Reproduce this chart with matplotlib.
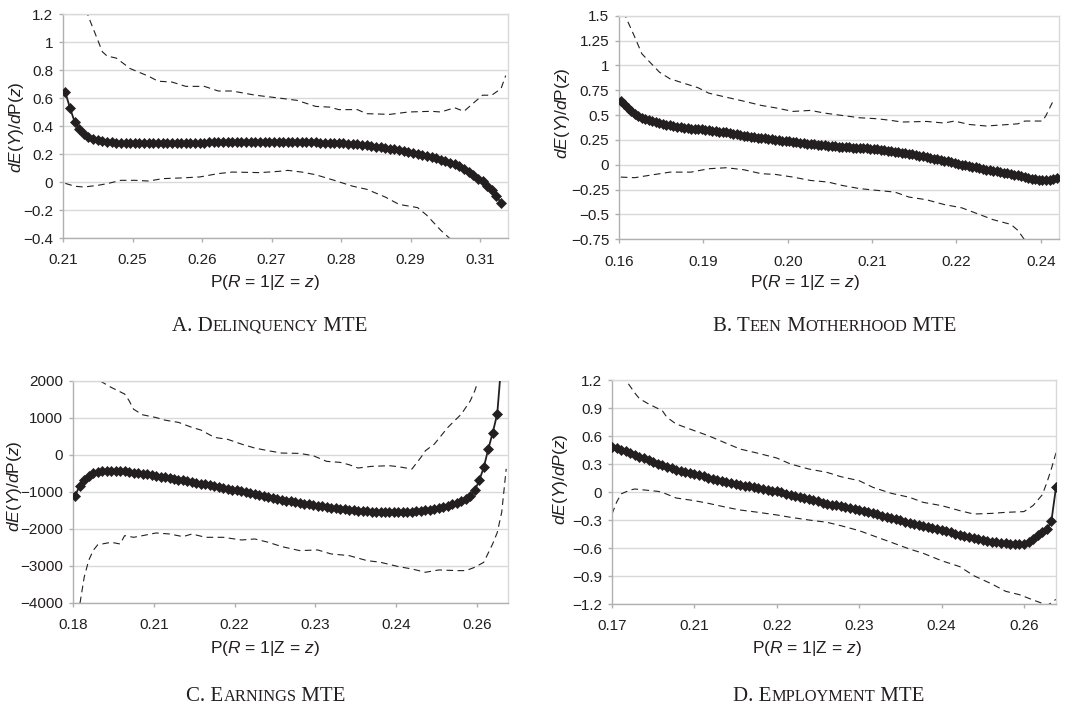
import matplotlib
matplotlib.use('Agg')
import matplotlib.pyplot as plt
from matplotlib.ticker import FuncFormatter

W, H = 1086, 708
plt.rcParams['font.family'] = ['Liberation Sans', 'DejaVu Sans']
plt.rcParams['mathtext.fontset'] = 'custom'
plt.rcParams['mathtext.rm'] = 'Liberation Sans'
plt.rcParams['mathtext.it'] = 'Liberation Sans:italic'
plt.rcParams['mathtext.bf'] = 'Liberation Sans:bold'
INK = '#231f20'

# ---------------- Panel A: Delinquency ----------------
a_xticklabels = ['0.21', '0.25', '0.26', '0.27', '0.28', '0.29', '0.31']
a_yticks = [-0.4, -0.2, 0, 0.2, 0.4, 0.6, 0.8, 1.0, 1.2]
a_mean = [0.64, 0.53, 0.43, 0.38, 0.34, 0.325, 0.31, 0.30, 0.292, 0.286, 0.283,
          0.281, 0.280, 0.279, 0.279, 0.279, 0.279, 0.279, 0.279, 0.279, 0.28,
          0.28, 0.28, 0.28, 0.28, 0.281, 0.281, 0.281, 0.281, 0.282, 0.282,
          0.283, 0.283, 0.284, 0.284, 0.285, 0.285, 0.286, 0.286, 0.287, 0.287,
          0.288, 0.288, 0.288, 0.288, 0.288, 0.288, 0.288, 0.287, 0.287, 0.286,
          0.286, 0.285, 0.284, 0.283, 0.282, 0.281, 0.28, 0.279, 0.277, 0.276,
          0.274, 0.271, 0.269, 0.266, 0.262, 0.257, 0.252, 0.248, 0.243, 0.238,
          0.233, 0.226, 0.22, 0.212, 0.205, 0.198, 0.192, 0.185, 0.178, 0.169,
          0.16, 0.148, 0.138, 0.128, 0.114, 0.095, 0.07, 0.048, 0.025, 0.005,
          -0.03, -0.06, -0.10, -0.15]
a_up_idx = [0, 5, 8, 9, 11, 14, 18, 20, 23, 26, 30, 33, 36, 41, 46, 50, 54, 57,
            59, 63, 65, 70, 74, 79, 81, 84, 86, 90, 92, 94, 95]
a_up = [1.65, 1.18, 0.93, 0.9, 0.885, 0.81, 0.755, 0.72, 0.714, 0.683, 0.683,
        0.65, 0.65, 0.62, 0.6, 0.583, 0.54, 0.535, 0.517, 0.517, 0.488, 0.483,
        0.5, 0.505, 0.5, 0.53, 0.505, 0.62, 0.62, 0.667, 0.76]
a_lo_idx = [0, 2, 4, 7, 9, 12, 15, 18, 21, 25, 29, 33, 36, 42, 46, 48, 51, 54,
            58, 62, 65, 69, 72, 76, 78, 81, 83, 86]
a_lo = [-0.01, -0.03, -0.036, -0.024, -0.012, 0.012, 0.012, 0.007, 0.024, 0.029,
        0.036, 0.06, 0.071, 0.067, 0.076, 0.083, 0.071, 0.052, 0.012, -0.03,
        -0.052, -0.107, -0.16, -0.183, -0.238, -0.345, -0.405, -0.55]

# ---------------- Panel B: Teen motherhood ----------------
b_xticklabels = ['0.16', '0.19', '0.20', '0.21', '0.22', '0.24']
b_yticks = [-0.75, -0.5, -0.25, 0, 0.25, 0.5, 0.75, 1.0, 1.25, 1.5]
b_mean = [0.645, 0.61, 0.575, 0.54, 0.51, 0.49, 0.475, 0.465, 0.452, 0.44,
          0.428, 0.418, 0.41, 0.402, 0.396, 0.39, 0.384, 0.378, 0.372, 0.368,
          0.364, 0.361, 0.358, 0.355, 0.352, 0.348, 0.344, 0.339, 0.334, 0.33,
          0.325, 0.319, 0.313, 0.306, 0.299, 0.294, 0.289, 0.284, 0.279, 0.274,
          0.27, 0.265, 0.26, 0.255, 0.25, 0.247, 0.243, 0.239, 0.235, 0.23,
          0.226, 0.222, 0.218, 0.213, 0.21, 0.207, 0.203, 0.2, 0.197, 0.193,
          0.19, 0.186, 0.182, 0.178, 0.176, 0.174, 0.172, 0.17, 0.168, 0.166,
          0.164, 0.162, 0.159, 0.155, 0.151, 0.146, 0.142, 0.137, 0.132, 0.126,
          0.121, 0.116, 0.11, 0.104, 0.097, 0.09, 0.084, 0.077, 0.07, 0.063,
          0.056, 0.049, 0.042, 0.035, 0.028, 0.018, 0.01, 0.002, -0.006, -0.013,
          -0.02, -0.027, -0.034, -0.041, -0.048, -0.054, -0.06, -0.066, -0.072, -0.078,
          -0.084, -0.092, -0.1, -0.108, -0.116, -0.124, -0.132, -0.14, -0.148, -0.154,
          -0.157, -0.155, -0.15, -0.143, -0.134]
b_up_idx = [0, 1, 4, 6, 11, 14, 18, 22, 25, 30, 35, 40, 44, 49, 54, 58, 63, 68,
            73, 77, 80, 87, 92, 95, 99, 104, 109, 113, 115, 120, 121, 123]
b_up = [1.65, 1.52, 1.284, 1.117, 0.932, 0.865, 0.82, 0.775, 0.721, 0.68, 0.64,
        0.597, 0.573, 0.537, 0.547, 0.52, 0.496, 0.473, 0.463, 0.446, 0.43, 0.436,
        0.42, 0.44, 0.406, 0.39, 0.402, 0.412, 0.44, 0.44, 0.496, 0.64]
b_lo_idx = [0, 4, 8, 14, 20, 25, 30, 35, 40, 44, 49, 54, 59, 63, 68, 73, 78, 82,
            87, 92, 97, 101, 106, 111, 113, 115, 118]
b_lo = [-0.124, -0.13, -0.107, -0.074, -0.074, -0.04, -0.03, -0.05, -0.09, -0.097,
        -0.124, -0.158, -0.174, -0.208, -0.24, -0.258, -0.275, -0.325, -0.352, -0.4,
        -0.433, -0.486, -0.553, -0.6, -0.66, -0.76, -0.9]

# ---------------- Panel C: Earnings ----------------
c_xticklabels = ['0.18', '0.21', '0.22', '0.23', '0.24', '0.26']
c_yticks = [-4000, -3000, -2000, -1000, 0, 1000, 2000]
c_mean = [-1100, -830, -680, -570, -500, -465, -445, -435, -430, -432,
          -438, -450, -465, -480, -495, -512, -530, -550, -568, -590,
          -610, -630, -650, -670, -690, -712, -735, -757, -780, -800,
          -820, -845, -870, -893, -916, -940, -962, -985, -1010, -1035,
          -1060, -1085, -1110, -1135, -1160, -1185, -1210, -1235, -1258, -1280,
          -1302, -1322, -1340, -1358, -1375, -1392, -1408, -1425, -1440, -1455,
          -1470, -1485, -1498, -1510, -1520, -1528, -1535, -1541, -1545, -1548,
          -1550, -1551, -1550, -1547, -1543, -1537, -1528, -1515, -1498, -1478,
          -1455, -1430, -1400, -1370, -1335, -1295, -1250, -1190, -1100, -960,
          -690, -340, 150, 600, 1100, 2600]
c_up_idx = [0, 4, 5, 8, 11, 12, 13, 15, 18, 20, 23, 26, 28, 31, 34, 37, 40, 43,
            46, 50, 53, 56, 59, 61, 63, 66, 70, 72, 75, 77, 78, 80, 83, 86, 88,
            89, 90, 91]
c_up = [3300, 2130, 2030, 1820, 1640, 1460, 1230, 1080, 1005, 935, 875, 740, 668,
        470, 416, 290, 182, 110, 47, 38, -24, -177, -204, -267, -357, -312, -294,
        -321, -384, -70, 110, 290, 740, 1097, 1457, 1727, 2087, 3000]
c_lo_idx = [0, 1, 2, 3, 4, 5, 8, 10, 11, 13, 15, 18, 21, 24, 26, 29, 33, 37, 40,
            43, 46, 50, 54, 57, 61, 65, 68, 72, 75, 78, 81, 85, 87, 89, 91, 92,
            93, 94, 95, 96]
c_lo = [-5500, -4050, -3300, -2850, -2580, -2430, -2361, -2407, -2182, -2227,
        -2182, -2110, -2137, -2209, -2137, -2227, -2227, -2299, -2272, -2361,
        -2478, -2586, -2568, -2676, -2721, -2856, -2901, -3018, -3081, -3171,
        -3108, -3126, -3126, -3036, -2901, -2650, -2400, -2100, -1550, -380]

# ---------------- Panel D: Employment ----------------
d_xticklabels = ['0.17', '0.21', '0.22', '0.23', '0.24', '0.26']
d_yticks = [-1.2, -0.9, -0.6, -0.3, 0, 0.3, 0.6, 0.9, 1.2]
d_mean = [0.48, 0.468, 0.453, 0.437, 0.42, 0.40, 0.38, 0.36, 0.342, 0.323,
          0.305, 0.288, 0.27, 0.252, 0.236, 0.224, 0.213, 0.202, 0.191, 0.18,
          0.168, 0.155, 0.143, 0.131, 0.119, 0.108, 0.098, 0.088, 0.078, 0.069,
          0.06, 0.051, 0.043, 0.034, 0.025, 0.016, 0.006, -0.005, -0.017, -0.029,
          -0.041, -0.053, -0.065, -0.077, -0.089, -0.101, -0.113, -0.124, -0.134, -0.144,
          -0.153, -0.163, -0.173, -0.183, -0.193, -0.205, -0.217, -0.229, -0.241, -0.253,
          -0.265, -0.278, -0.291, -0.304, -0.317, -0.329, -0.339, -0.349, -0.359, -0.37,
          -0.382, -0.394, -0.406, -0.419, -0.432, -0.445, -0.458, -0.471, -0.484, -0.495,
          -0.505, -0.515, -0.524, -0.531, -0.538, -0.544, -0.549, -0.553, -0.556, -0.557,
          -0.556, -0.54, -0.50, -0.46, -0.43, -0.40, -0.31, 0.05]
d_up_idx = [0, 3, 5, 6, 8, 11, 12, 14, 18, 21, 25, 28, 32, 36, 39, 43, 47, 50,
            54, 57, 61, 65, 68, 72, 76, 79, 83, 86, 90, 92, 94, 95, 96, 97]
d_up = [1.6, 1.2, 1.06, 1.0, 0.943, 0.871, 0.8, 0.729, 0.657, 0.604, 0.521, 0.46,
        0.414, 0.364, 0.3, 0.246, 0.21, 0.164, 0.121, 0.05, -0.014, -0.057, -0.111,
        -0.146, -0.2, -0.236, -0.229, -0.218, -0.21, -0.145, -0.03, 0.10, 0.25, 0.42]
d_lo_idx = [0, 1, 2, 4, 5, 7, 10, 11, 14, 18, 21, 25, 28, 32, 36, 39, 43, 47, 50,
            54, 57, 61, 65, 68, 72, 76, 79, 83, 86, 89, 92, 94, 95, 97]
d_lo = [-0.236, -0.11, -0.02, 0.022, 0.032, 0.022, 0.007, -0.004, -0.064, -0.093,
        -0.121, -0.164, -0.193, -0.218, -0.246, -0.271, -0.3, -0.325, -0.361, -0.414,
        -0.468, -0.539, -0.611, -0.657, -0.736, -0.8, -0.896, -0.986, -1.064, -1.1,
        -1.157, -1.193, -1.22, -1.15]

fig = plt.figure(figsize=(W / 100, H / 100), dpi=100)


def fmt(v, p):
    return ('%g' % round(v, 6)).replace('-', '\u2212')


def panel(box, mean, up_idx, up, lo_idx, lo, xlim, tick0, step, xticklabels, yticks):
    l, t, r, b = box
    ax = fig.add_axes([l / W, 1 - b / H, (r - l) / W, (b - t) / H])
    ax.plot(range(len(mean)), mean, color=INK, lw=1.3, marker='D', ms=5.0,
            mfc=INK, mec=INK, mew=0.5, zorder=3)
    ax.plot(up_idx, up, color=INK, lw=0.8, ls=(0, (6, 4)), zorder=2)
    ax.plot(lo_idx, lo, color=INK, lw=0.8, ls=(0, (6, 4)), zorder=2)
    ax.set_xlim(*xlim)
    ax.set_ylim(yticks[0], yticks[-1])
    ax.set_yticks(yticks)
    ax.yaxis.set_major_formatter(FuncFormatter(fmt))
    ax.set_xticks([tick0 + step * j for j in range(len(xticklabels))])
    ax.set_xticklabels(xticklabels)
    ax.grid(axis='y', color='#d9d9d9', lw=1)
    ax.set_axisbelow(True)
    for s in ax.spines.values():
        s.set_color('#d9d9d9')
        s.set_linewidth(1)
    ax.spines['left'].set_color('#b0b0b0')
    ax.spines['bottom'].set_color('#b0b0b0')
    ax.tick_params(axis='both', colors='#b0b0b0', labelcolor=INK, labelsize=11,
                   length=3, width=1, direction='out')
    ax.tick_params(axis='x', pad=8)
    ax.tick_params(axis='y', pad=4)
    return ax


panel((63, 14, 508, 238), a_mean, a_up_idx, a_up, a_lo_idx, a_lo,
      (-0.5, 95.5), -0.5, 15, a_xticklabels, a_yticks)
panel((619, 15.7, 1059, 239.3), b_mean, b_up_idx, b_up, b_lo_idx, b_lo,
      (-0.5, 124.7), -0.5, 24, b_xticklabels, b_yticks)
panel((73, 380.7, 508, 603), c_mean, c_up_idx, c_up, c_lo_idx, c_lo,
      (-0.5, 96.4), -0.5, 18, c_xticklabels, c_yticks)
panel((612, 380, 1056, 604), d_mean, d_up_idx, d_up, d_lo_idx, d_lo,
      (0, 97), 0, 18, d_xticklabels, d_yticks)

xlab = r'P($R$ = 1|Z = $z$)'
ylab = r'$dE$($Y$)/$d$P($z$)'
ylab_d = r'$dE$($Y$)/$dP$($z$)'
for (x, y) in [(265, 283), (805, 283), (265, 649), (807, 649)]:
    fig.text(x / W, 1 - y / H, xlab, ha='center', va='center', fontsize=12.5, color=INK)
for (x, y, s) in [(17, 127, ylab), (563, 113, ylab), (15, 486, ylab), (560, 479, ylab_d)]:
    fig.text(x / W, 1 - y / H, s, ha='center', va='center', rotation=90,
             fontsize=12.5, color=INK)

renderer = fig.canvas.get_renderer()


def caption(cx, base, pieces):
    texts, widths = [], []
    for s, big in pieces:
        t = fig.text(0, 0, s, fontsize=15 if big else 11.8,
                     family=['Liberation Serif'], color=INK, va='baseline', ha='left')
        widths.append(t.get_window_extent(renderer).width)
        texts.append(t)
    x = cx - sum(widths) / 2
    for t, w in zip(texts, widths):
        t.set_position((x / W, 1 - base / H))
        x += w


caption(270, 331, [('A. D', 1), ('ELINQUENCY', 0), (' MTE', 1)])
caption(835, 331, [('B. T', 1), ('EEN', 0), (' M', 1), ('OTHERHOOD', 0), (' MTE', 1)])
caption(266, 701, [('C. E', 1), ('ARNINGS', 0), (' MTE', 1)])
caption(829, 701, [('D. E', 1), ('MPLOYMENT', 0), (' MTE', 1)])

fig.savefig('out.png', dpi=100)
